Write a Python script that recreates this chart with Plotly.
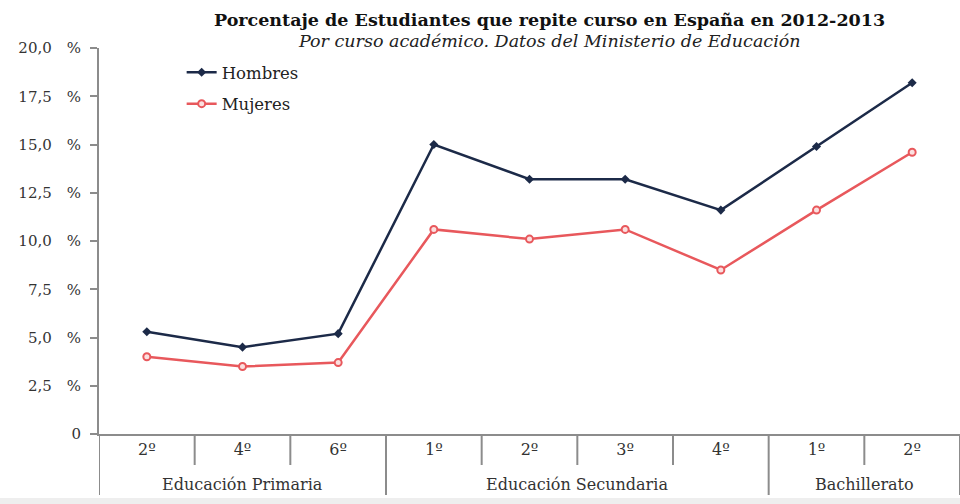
import plotly.graph_objects as go

# Education level (group) and course for each point
niveles = ["Educación Primaria"] * 3 + ["Educación Secundaria"] * 4 + ["Bachillerato"] * 2
cursos = ["2º", "4º", "6º", "1º", "2º", "3º", "4º", "1º", "2º"]

# Percentage of students repeating a year, 2012-2013
hombres = [5.3, 4.5, 5.2, 15.0, 13.2, 13.2, 11.6, 14.9, 18.2]
mujeres = [4.0, 3.5, 3.7, 10.6, 10.1, 10.6, 8.5, 11.6, 14.6]

y_ticks = [0, 2.5, 5, 7.5, 10, 12.5, 15, 17.5, 20]
y_labels = ["0", "2,5\u2003%", "5,0\u2003%", "7,5\u2003%", "10,0\u2003%",
            "12,5\u2003%", "15,0\u2003%", "17,5\u2003%", "20,0\u2003%"]

FONT = "DejaVu Serif"
NAVY = "#1c2a48"
RED = "#e8585c"
AXIS = "#8c8c8c"
TEXT = "#333333"

PLOT_H = 386  # plot-area height in px, used to convert px offsets to paper units
xs = list(range(len(cursos)))

fig = go.Figure()
fig.add_trace(go.Scatter(
    x=xs, y=hombres, name="Hombres", mode="lines+markers",
    line=dict(color=NAVY, width=2.5),
    marker=dict(symbol="diamond", size=7, color=NAVY),
    legendgroup="h",
))
fig.add_trace(go.Scatter(
    x=xs, y=mujeres, name="Mujeres", mode="lines+markers",
    line=dict(color=RED, width=2.5),
    marker=dict(symbol="circle", size=7, color="#fbe0e0", line=dict(color=RED, width=2)),
    legendgroup="m",
))

fig.update_layout(
    width=960, height=504,
    margin=dict(l=99, r=0, t=48, b=70),
    paper_bgcolor="white", plot_bgcolor="white",
    font=dict(family=FONT, size=15, color=TEXT),
    showlegend=True,
    legend=dict(
        x=0.096, y=1 - 7 / PLOT_H, xanchor="left", yanchor="top",
        bgcolor="rgba(0,0,0,0)", font=dict(family=FONT, size=16.5, color="#222222"),
        traceorder="grouped", tracegroupgap=7, itemwidth=30,
    ),
)

# title and subtitle
fig.add_annotation(
    text="<b>Porcentaje de Estudiantes que repite curso en España en 2012-2013</b>",
    x=0.523, xref="paper", y=1 + (48 - 20) / PLOT_H, yref="paper", yanchor="middle",
    showarrow=False, font=dict(family=FONT, size=17.5, color="#111111"),
)
fig.add_annotation(
    text="<i>Por curso académico. Datos del Ministerio de Educación</i>",
    x=0.523, xref="paper", y=1 + (48 - 41) / PLOT_H, yref="paper", yanchor="middle",
    showarrow=False, font=dict(family=FONT, size=17.5, color="#222222"),
)

fig.update_xaxes(
    range=[-0.5, len(cursos) - 0.5],
    tickvals=xs, ticktext=cursos, ticks="",
    showline=True, linecolor=AXIS, linewidth=2,
    tickfont=dict(family=FONT, size=16, color=TEXT),
    showgrid=False, zeroline=False,
)
fig.update_yaxes(
    range=[0, 20], tickvals=y_ticks, ticktext=y_labels,
    showline=True, linecolor=AXIS, linewidth=2,
    ticks="outside", ticklen=7, tickcolor=AXIS, tickwidth=2,
    ticklabelstandoff=6,
    showgrid=False, zeroline=False,
    tickfont=dict(family=FONT, size=15, color=TEXT),
)

# separators between courses (short) and between levels (long), group labels
start = 0
groups = []
for i in range(1, len(niveles) + 1):
    if i == len(niveles) or niveles[i] != niveles[start]:
        groups.append((niveles[start], start, i - 1))
        start = i
for i in range(1, len(cursos)):
    if niveles[i] == niveles[i - 1]:
        fig.add_shape(type="line", xref="x", yref="paper",
                      x0=i - 0.5, x1=i - 0.5, y0=0, y1=-31 / PLOT_H,
                      line=dict(color=AXIS, width=2))
for name, a, b in groups:
    fig.add_shape(type="line", xref="x", yref="paper",
                  x0=a - 0.5, x1=a - 0.5, y0=0, y1=-61 / PLOT_H,
                  line=dict(color=AXIS, width=2))
    fig.add_annotation(text=name, x=(a + b) / 2, xref="x",
                       y=-50 / PLOT_H, yref="paper", yanchor="middle",
                       showarrow=False, font=dict(family=FONT, size=16, color=TEXT))
fig.add_shape(type="line", xref="x", yref="paper",
              x0=len(cursos) - 0.5, x1=len(cursos) - 0.5, y0=0, y1=-61 / PLOT_H,
              line=dict(color=AXIS, width=2))

# light strip along the bottom edge
fig.add_shape(type="rect", xref="paper", yref="paper",
              x0=-0.2, x1=1.1, y0=-70 / PLOT_H, y1=-64 / PLOT_H,
              fillcolor="#eeeeee", line=dict(width=0), layer="below")

fig.write_html("out.html")
